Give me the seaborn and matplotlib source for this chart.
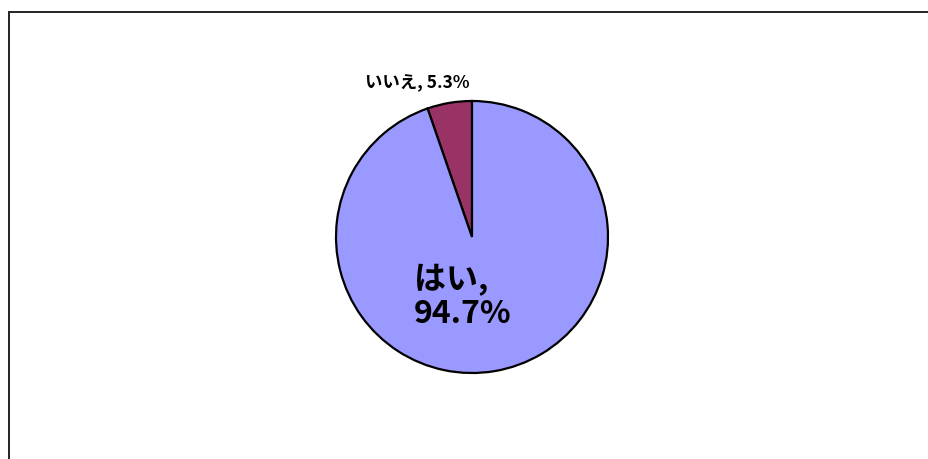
import matplotlib
matplotlib.use("Agg")
import matplotlib.pyplot as plt
import matplotlib.patches as mpatches
import seaborn as sns

# data
labels = ["いいえ", "はい"]
values = [5.3, 94.7]
colors = ["#993366", "#9999FF"]

sns.set_theme(style="white")
plt.rcParams["font.family"] = ["Noto Sans CJK JP", "DejaVu Sans"]

W, H = 929, 459
fig = plt.figure(figsize=(W / 100, H / 100), dpi=100)

# outer chart frame (top-left corner visible, rest runs off the picture)
frame = mpatches.Rectangle((9 / W, -0.1), 1.2, 1.1 - 12 / H, transform=fig.transFigure,
                           fill=False, edgecolor="#222222", linewidth=1.4, clip_on=False)
fig.patches.append(frame)

# pie axes: center (472, 237) px, radius 136 px
cx, cy, r, half = 472, 237, 136, 200
ax = fig.add_axes([(cx - half) / W, (H - cy - half) / H, 2 * half / W, 2 * half / H])
ax.pie(values, colors=colors, startangle=90, counterclock=True,
       wedgeprops=dict(edgecolor="black", linewidth=1.6))
lim = half / r
ax.set_xlim(-lim, lim)
ax.set_ylim(-lim, lim)
ax.set_aspect("equal")
ax.axis("off")

ax.text((417 - cx) / r, (cy - 83) / r, f"{labels[0]}, {values[0]}%",
        ha="center", va="center", fontsize=12.5, fontweight="bold", color="black")
ax.text((414 - cx) / r, (cy - 297) / r, f"{labels[1]},\n{values[1]}%",
        ha="left", va="center", fontsize=23, fontweight="bold", color="black",
        linespacing=1.1)

fig.savefig("out.png", dpi=100)
